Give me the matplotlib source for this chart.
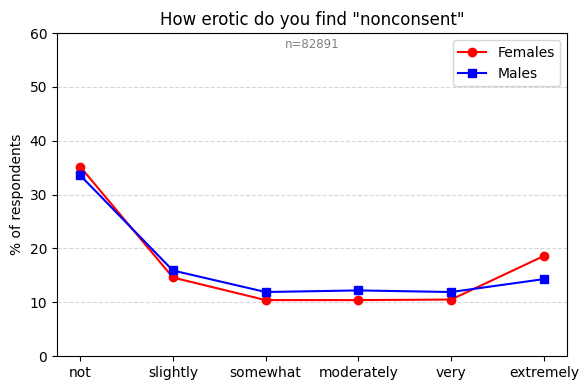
import matplotlib
matplotlib.use("Agg")
import matplotlib.pyplot as plt

# DATA
categories = ["not", "slightly", "somewhat", "moderately", "very", "extremely"]
females = [35.2, 14.6, 10.4, 10.4, 10.5, 18.6]
males = [33.6, 15.9, 11.9, 12.2, 11.9, 14.3]
n_total = 82891

fig, ax = plt.subplots(figsize=(5.87, 3.9), dpi=100)

x = range(len(categories))
ax.plot(x, females, color="red", marker="o", label="Females")
ax.plot(x, males, color="blue", marker="s", label="Males")

ax.set_xticks(list(x))
ax.set_xticklabels(categories)
ax.set_ylim(0, 60)
ax.set_ylabel("% of respondents")
ax.set_title('How erotic do you find "nonconsent"')
ax.grid(axis="y", linestyle="--", alpha=0.5)
ax.text(0.5, 0.985, f"n={n_total}", transform=ax.transAxes,
        ha="center", va="top", fontsize=8.5, color="gray")
ax.legend(loc="upper right")

plt.subplots_adjust(left=0.097, right=0.966, top=0.915, bottom=0.087)
plt.savefig("out.png", dpi=100)
